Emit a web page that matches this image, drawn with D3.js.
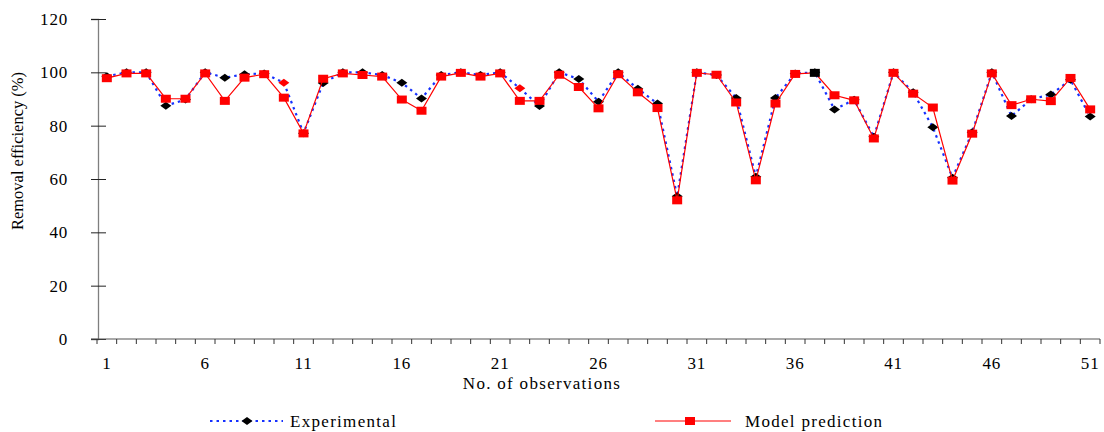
<!DOCTYPE html>
<html lang="en">
  <head>
    <meta charset="utf-8" />
    <title>Removal efficiency: experimental vs model</title>
    <script src="https://d3js.org/d3.v7.min.js"></script>
    <style type="text/css">
      body {
        margin: 0;
        background: white;
      }
      text {
        font-family: "Liberation Serif", "Times New Roman", serif;
        font-size: 17px;
        fill: black;
      }
      .tick text {
        letter-spacing: 0.8px;
      }
      .wide {
        letter-spacing: 1.3px;
      }
    </style>
  </head>
  <body>
    <script type="text/javascript">
      const w = 1104;
      const h = 432;

      // Data
      const observations = d3.range(1, 52);
      const experimental = [
        98.5, 100, 100, 87.5, 89.8, 100, 98, 99.3, 99.6, 96.1,
        77.2, 96, 100, 100, 99, 96.1, 90.2, 99, 100, 99,
        100, 94, 87.4, 100, 97.5, 89, 100, 93.8, 88.3, 53.5,
        100, 99, 90.4, 60.8, 90.4, 99.6, 100, 86.1, 89.7, 75.8,
        100, 92.5, 79.4, 60.5, 77.5, 100, 83.6, 89.9, 91.7, 97.2,
        83.4
      ];
      const model = [
        97.8, 99.6, 99.6, 90.1, 90.1, 99.6, 89.3, 98, 99.3, 90.5,
        77.1, 97.6, 99.6, 99, 98.4, 89.8, 85.6, 98.4, 99.8, 98.4,
        99.6, 89.3, 89.3, 99.1, 94.5, 86.5, 99.3, 92.5, 86.6, 52,
        99.8, 99.1, 88.7, 59.5, 88.3, 99.4, 99.8, 91.4, 89.5, 75.2,
        99.8, 92, 86.8, 59.4, 77, 99.6, 87.7, 89.9, 89.2, 97.9,
        86.1
      ];
      const xTickLabels = [1, 6, 11, 16, 21, 26, 31, 36, 41, 46, 51];
      const yTicks = [0, 20, 40, 60, 80, 100, 120];
      // single points that carry a different marker colour in the original
      const expRedPoints = [10, 22];
      const modelBlackPoints = [37];

      // Scales
      const x = d3.scaleBand().domain(observations).range([97, 1100]).padding(0);
      const cx = function (i) {
        return x(i) + x.bandwidth() / 2;
      };
      const y = d3.scaleLinear().domain([0, 120]).range([339, 19]);

      // Marker shapes
      const diamond = function (px, py) {
        return `M${px - 5.5},${py}L${px},${py - 4}L${px + 5.5},${py}L${px},${py + 4}Z`;
      };
      const square = function (px, py) {
        return `M${px - 5},${py - 4}h10v8h-10Z`;
      };

      const svg = d3
        .select("body")
        .append("svg")
        .attr("width", w)
        .attr("height", h);

      // Y axis
      const yAxis = svg
        .append("g")
        .attr("transform", "translate(98,0)")
        .call(d3.axisLeft(y).tickValues(yTicks).tickSize(7));
      yAxis.select(".domain").attr("stroke", "#7f7f7f").attr("stroke-width", 1.3);
      yAxis.selectAll(".tick line").attr("x1", -7).attr("x2", 8).attr("stroke", "#222");
      yAxis
        .selectAll(".tick text")
        .attr("x", -30)
        .attr("dy", "0.33em")
        .style("font-size", "17px")
        .style("font-family", "Liberation Serif");

      // X axis: labels at category centres, ticks at boundaries
      const xAxis = svg
        .append("g")
        .attr("transform", "translate(0,339)")
        .call(d3.axisBottom(x).tickValues(xTickLabels).tickSize(0));
      xAxis.select(".domain").remove();
      xAxis
        .selectAll(".tick text")
        .attr("y", 30)
        .attr("dy", 0)
        .style("font-size", "17px")
        .style("font-family", "Liberation Serif");

      svg
        .append("line")
        .attr("x1", 91)
        .attr("x2", x.range()[1])
        .attr("y1", 339)
        .attr("y2", 339)
        .attr("stroke", "#555")
        .attr("stroke-width", 1.2);

      svg
        .append("g")
        .selectAll("line")
        .data(observations.concat([52]))
        .enter()
        .append("line")
        .attr("x1", function (d) {
          return d === 52 ? x.range()[1] : x(d);
        })
        .attr("x2", function (d) {
          return d === 52 ? x.range()[1] : x(d);
        })
        .attr("y1", 339)
        .attr("y2", 344)
        .attr("stroke", "#333");

      // Axis titles
      svg
        .append("text")
        .attr("class", "wide")
        .attr("x", 542)
        .attr("y", 389)
        .attr("text-anchor", "middle")
        .text("No. of observations");

      svg
        .append("text")
        .attr("transform", "translate(23,151) rotate(-90)")
        .attr("text-anchor", "middle")
        .style("font-size", "16.5px")
        .text("Removal efficiency (%)");

      // Lines
      const lineGen = d3
        .line()
        .x(function (d, i) {
          return cx(observations[i]);
        })
        .y(function (d) {
          return y(d);
        });

      svg
        .append("path")
        .datum(experimental)
        .attr("fill", "none")
        .attr("stroke", "#1530ff")
        .attr("stroke-width", 2.2)
        .attr("stroke-dasharray", "2.5 4")
        .attr("d", lineGen);

      svg
        .append("g")
        .selectAll("path")
        .data(experimental)
        .enter()
        .append("path")
        .attr("d", function (d, i) {
          return diamond(cx(observations[i]), y(d));
        })
        .attr("fill", function (d, i) {
          return expRedPoints.includes(observations[i]) ? "#ff0000" : "#000";
        });

      svg
        .append("path")
        .datum(model)
        .attr("fill", "none")
        .attr("stroke", "#ff0000")
        .attr("stroke-width", 1.2)
        .attr("d", lineGen);

      svg
        .append("g")
        .selectAll("path")
        .data(model)
        .enter()
        .append("path")
        .attr("d", function (d, i) {
          return square(cx(observations[i]), y(d));
        })
        .attr("fill", function (d, i) {
          return modelBlackPoints.includes(observations[i]) ? "#000" : "#ff0000";
        });

      // Legend
      const legend = svg.append("g");
      legend
        .append("line")
        .attr("x1", 210)
        .attr("x2", 283)
        .attr("y1", 421)
        .attr("y2", 421)
        .attr("stroke", "#1530ff")
        .attr("stroke-width", 2.2)
        .attr("stroke-dasharray", "2.5 4");
      legend.append("path").attr("d", diamond(247, 421)).attr("fill", "#000");
      legend
        .append("text")
        .attr("class", "wide")
        .attr("x", 290)
        .attr("y", 427)
        .text("Experimental");

      legend
        .append("line")
        .attr("x1", 655)
        .attr("x2", 731)
        .attr("y1", 421)
        .attr("y2", 421)
        .attr("stroke", "#ff0000")
        .attr("stroke-width", 1.2);
      legend.append("path").attr("d", square(690, 421)).attr("fill", "#ff0000");
      legend
        .append("text")
        .attr("class", "wide")
        .attr("x", 745)
        .attr("y", 427)
        .text("Model prediction");
    </script>
  </body>
</html>
